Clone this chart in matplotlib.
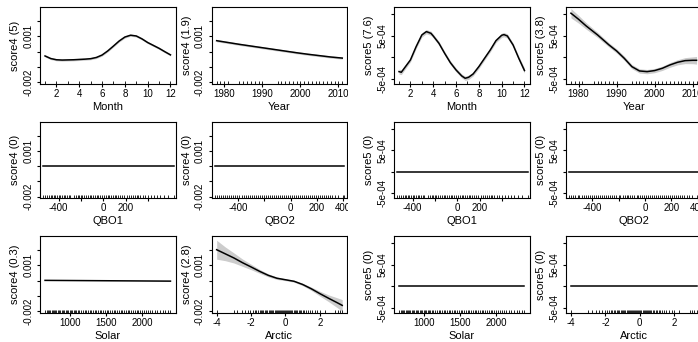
import matplotlib.pyplot as plt
from matplotlib.patches import Rectangle

plt.rcParams['font.family'] = ['Liberation Sans', 'DejaVu Sans']

# ---- data ----
month = [1, 2, 3, 4, 5, 6, 7, 8, 9, 10, 11, 12]
years = [1978, 1979, 1980, 1981, 1984, 1985, 1986, 1987, 1988, 1989, 1990,
         1994, 1995, 1996, 1997, 1998, 1999, 2000, 2001, 2002, 2003, 2004,
         2005, 2006, 2007, 2008, 2009, 2010, 2011]
qbo1 = [-537, -520, -505, -490, -472, -460, -445, -430, -418, -400, -385, -370,
        -352, -340, -325, -310, -296, -262, -248, -230, -215, -200, -188, -170,
        -155, -140, -122, -108, -92, -75, -60, -45, -30, -12, 5, 20, 38, 52, 70,
        84, 100, 112, 130, 148, 165, 180, 212, 230, 245, 262, 278, 295, 312, 330,
        350, 372, 395, 420, 448, 475, 505, 540, 580, 627]
qbo2 = [-575, -560, -545, -528, -512, -498, -480, -466, -450, -436, -420, -405,
        -390, -372, -358, -340, -326, -310, -295, -280, -262, -248, -232, -218,
        -200, -186, -170, -155, -140, -126, -110, -95, -80, -64, -50, -35, -20,
        -6, 10, 24, 40, 55, 70, 86, 100, 115, 130, 146, 160, 176, 190, 205, 220,
        236, 250, 268, 285, 300, 318, 335, 360, 398, 405]
solar = [650, 672, 690, 705, 722, 740, 758, 775, 790, 808, 825, 842, 860, 880,
         900, 915, 935, 955, 975, 990, 1010, 1030, 1050, 1068, 1085, 1105, 1125,
         1150, 1175, 1200, 1222, 1245, 1270, 1290, 1315, 1340, 1362, 1385, 1410,
         1432, 1455, 1480, 1505, 1530, 1552, 1575, 1600, 1625, 1650, 1675, 1700,
         1722, 1748, 1770, 1795, 1820, 1845, 1870, 1895, 1920, 1945, 1970, 1995,
         2020, 2050, 2080, 2110, 2140, 2170, 2200, 2240, 2280, 2320, 2350, 2390]
arctic = [-4.0, -3.0, -2.8, -2.55, -2.35, -2.2, -2.05, -1.9, -1.8, -1.7, -1.6,
          -1.5, -1.42, -1.35, -1.28, -1.2, -1.12, -1.05, -0.98, -0.9, -0.83,
          -0.76, -0.7, -0.63, -0.56, -0.5, -0.44, -0.38, -0.32, -0.26, -0.2,
          -0.14, -0.08, -0.02, 0.04, 0.1, 0.16, 0.22, 0.28, 0.34, 0.4, 0.47, 0.54,
          0.61, 0.68, 0.76, 0.84, 0.92, 1.0, 1.1, 1.2, 1.3, 1.42, 1.55, 1.7, 1.85,
          2.0, 2.3, 2.9, 3.05, 3.15, 3.3]

# smooth terms (x, fit, half width of band)
s4_month_x = [1.0, 1.5, 2.0, 2.5, 3.0, 3.5, 4.0, 4.5, 5.0, 5.5, 6.0, 6.5, 7.0,
              7.5, 8.0, 8.5, 9.0, 9.5, 10.0, 10.5, 11.0, 11.5, 12.0]
s4_month = [-0.00028, -0.00045, -0.00053, -0.00055, -0.00054, -0.00053, -0.00051,
            -0.00049, -0.00046, -0.00038, -0.00022, 0.00005, 0.00037, 0.00070,
            0.00096, 0.00108, 0.00103, 0.00084, 0.00060, 0.00041, 0.00022,
            0.00000, -0.00021]
s4_month_se = [0.00007] * 23

s4_year_x = [1978, 1981, 1984, 1987, 1990, 1993, 1996, 1999, 2002, 2005, 2008, 2011]
s4_year = [0.00072, 0.00060, 0.00048, 0.00037, 0.00026, 0.00015, 0.00004,
           -0.00007, -0.00017, -0.00026, -0.00035, -0.00042]
s4_year_se = [0.00007] * 12

s5_month_x = [1.0, 1.2, 2.0, 2.5, 3.0, 3.4, 3.8, 4.0, 4.5, 5.0, 5.5, 6.0, 6.5,
              6.8, 7.1, 7.5, 8.0, 8.5, 9.0, 9.5, 10.0, 10.2, 10.5, 11.0, 11.5, 12.0]
s5_month = [-3.35e-4, -3.5e-4, -0.62e-4, 2.49e-4, 5.22e-4, 6.0e-4, 5.6e-4,
            4.98e-4, 3.27e-4, 0.93e-4, -1.25e-4, -2.96e-4, -4.36e-4, -4.9e-4,
            -4.67e-4, -3.89e-4, -2.18e-4, -0.23e-4, 1.71e-4, 3.89e-4, 5.14e-4,
            5.3e-4, 4.98e-4, 2.88e-4, -0.23e-4, -3.1e-4]
s5_month_se = [0.6e-4, 0.55e-4, 0.45e-4, 0.45e-4, 0.5e-4, 0.5e-4, 0.5e-4,
               0.45e-4, 0.45e-4, 0.45e-4, 0.45e-4, 0.45e-4, 0.45e-4, 0.5e-4,
               0.5e-4, 0.45e-4, 0.45e-4, 0.45e-4, 0.45e-4, 0.45e-4, 0.5e-4,
               0.5e-4, 0.5e-4, 0.45e-4, 0.5e-4, 0.6e-4]

s5_year_x = [1978, 1980, 1982, 1985, 1988, 1990, 1992, 1994, 1996, 1998, 2000,
             2002, 2004, 2006, 2008, 2010, 2011]
s5_year = [1.03e-3, 8.88e-4, 7.32e-4, 5.22e-4, 2.88e-4, 1.48e-4, -0.23e-4,
           -2.18e-4, -3.19e-4, -3.35e-4, -3.1e-4, -2.57e-4, -1.79e-4, -1.17e-4,
           -0.78e-4, -0.7e-4, -0.7e-4]
s5_year_se = [1.1e-4, 0.9e-4, 0.75e-4, 0.6e-4, 0.5e-4, 0.5e-4, 0.5e-4, 0.5e-4,
              0.5e-4, 0.5e-4, 0.5e-4, 0.5e-4, 0.55e-4, 0.6e-4, 0.7e-4, 0.8e-4,
              0.9e-4]

s4_solar_x = [650, 2390]
s4_solar = [0.00002, -0.00003]

s4_arctic_x = [-4.0, -3.5, -3.0, -2.5, -2.0, -1.5, -1.0, -0.5, 0.0, 0.5, 1.0,
               1.5, 2.0, 2.5, 3.0, 3.3]
s4_arctic = [0.00203, 0.00176, 0.00149, 0.00118, 0.00090, 0.00061, 0.00035,
             0.00016, 0.00006, -0.00004, -0.00025, -0.00053, -0.00085, -0.00115,
             -0.00144, -0.00162]
s4_arctic_se = [0.00062, 0.00045, 0.00033, 0.00024, 0.00018, 0.00013, 0.0001,
                0.00008, 0.00006, 0.00006, 0.00008, 0.00011, 0.00016, 0.00022,
                0.00032, 0.00038]

# ---- layout (pixels) ----
W, H = 698, 342
col_x = [40, 211.7, 394, 566]
row_y = [7, 121.5, 236]
pw, ph = 135.5, 77

fig = plt.figure(figsize=(W / 100, H / 100), dpi=100)

ylim4 = (-0.00212, 0.00293)
ylim5 = (-6.24e-4, 1.175e-3)
yt4 = ([-0.002, -0.001, 0, 0.001, 0.002], ['-0.002', '', '', '0.001', ''])
yt5 = ([-5e-4, 0, 5e-4, 1e-3], ['-5e-04', '', '5e-04', ''])

xcfg = {
    'Month': ((0.56, 12.44), [2, 4, 6, 8, 10, 12], ['2', '4', '6', '8', '10', '12'], month),
    'Year': ((1976.7, 2012.3), [1980, 1990, 2000, 2010], ['1980', '1990', '2000', '2010'], years),
    'QBO1': ((-567, 643), [-400, -200, 0, 200, 400], ['-400', '', '0', '200', ''], qbo1),
    'QBO2': ((-600, 430), [-400, -200, 0, 200, 400], ['-400', '', '0', '200', '400'], qbo2),
    'Solar': ((580, 2460), [1000, 1500, 2000], ['1000', '1500', '2000'], solar),
    'Arctic': ((-4.29, 3.59), [-4, -2, 0, 2], ['-4', '-2', '0', '2'], arctic),
}


def panel(r, c, var, ylabel, x, fit, se=None):
    left = col_x[c]
    top = row_y[r]
    ax = fig.add_axes([left / W, 1 - (top + ph) / H, pw / W, ph / H])
    xlim, xt, xtl, rug = xcfg[var]
    if c < 2:
        ylim, (yt, ytl) = ylim4, yt4
    else:
        ylim, (yt, ytl) = ylim5, yt5
        ax.set_zorder(2)
    if se is not None:
        lo = [f - s for f, s in zip(fit, se)]
        hi = [f + s for f, s in zip(fit, se)]
        ax.fill_between(x, lo, hi, color='#cccccc', lw=0)
    ax.plot(x, fit, color='black', lw=1.1)
    ax.vlines(rug, 0, 0.04, transform=ax.get_xaxis_transform(), color='black', lw=0.6)
    ax.set_xlim(xlim)
    ax.set_ylim(ylim)
    ax.set_xticks(xt, xtl)
    ax.set_yticks(yt, ytl, rotation=90, va='center')
    ax.tick_params(direction='out', length=2.3, width=0.8, labelsize=7)
    ax.tick_params(axis='x', pad=1)
    ax.tick_params(axis='y', pad=2.5)
    for s in ax.spines.values():
        s.set_linewidth(0.8)
    ax.set_xlabel(var, fontsize=8, va='center')
    ax.xaxis.set_label_coords(0.5, -23 / ph)
    ax.set_ylabel(ylabel, fontsize=8, va='center')
    ax.yaxis.set_label_coords(-25 / pw, 0.5)
    return ax


panel(0, 0, 'Month', 'score4 (5)', s4_month_x, s4_month, s4_month_se)
panel(0, 1, 'Year', 'score4 (1.9)', s4_year_x, s4_year, s4_year_se)
panel(1, 0, 'QBO1', 'score4 (0)', [min(qbo1), max(qbo1)], [0, 0])
panel(1, 1, 'QBO2', 'score4 (0)', [min(qbo2), max(qbo2)], [0, 0])
panel(2, 0, 'Solar', 'score4 (0.3)', s4_solar_x, s4_solar)
panel(2, 1, 'Arctic', 'score4 (2.8)', s4_arctic_x, s4_arctic, s4_arctic_se)

panel(0, 2, 'Month', 'score5 (7.6)', s5_month_x, s5_month, s5_month_se)
panel(0, 3, 'Year', 'score5 (3.8)', s5_year_x, s5_year, s5_year_se)
panel(1, 2, 'QBO1', 'score5 (0)', [min(qbo1), max(qbo1)], [0, 0])
panel(1, 3, 'QBO2', 'score5 (0)', [min(qbo2), max(qbo2)], [0, 0])
panel(2, 2, 'Solar', 'score5 (0)', [min(solar), max(solar)], [0, 0])
panel(2, 3, 'Arctic', 'score5 (0)', [min(arctic), max(arctic)], [0, 0])

# the right-hand image sits on top of the left one
fig.add_artist(Rectangle((348 / W, 0), 1, 1, transform=fig.transFigure,
                         facecolor='white', edgecolor='none', zorder=1))

fig.savefig('out.png', dpi=100)
